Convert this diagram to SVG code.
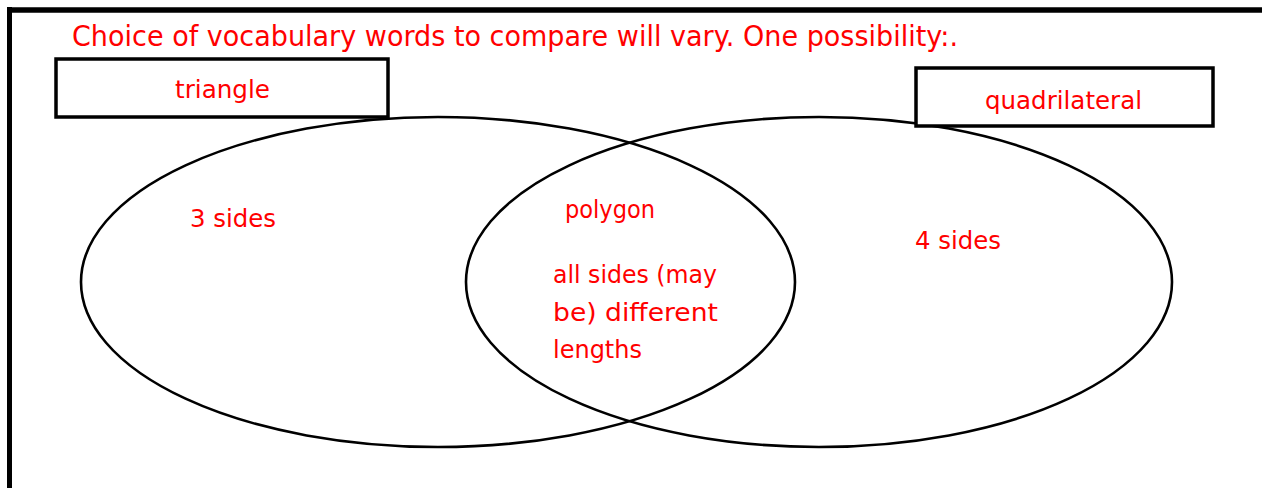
<svg xmlns="http://www.w3.org/2000/svg" width="1262" height="488" viewBox="0 0 1262 488">
<style>
.t{font-family:"DejaVu Sans","Liberation Sans",sans-serif;fill:#FF0000;font-size:25px}
.title{font-size:28px}
.ell{fill:none;stroke:#000;stroke-width:2.6}
.box{fill:#fff;stroke:#000;stroke-width:3.5}
</style>
<rect width="1262" height="488" fill="#fff"/>
<g id="frame">
<line x1="7" y1="10" x2="1262" y2="10" stroke="#000" stroke-width="5.5"/>
<line x1="9.5" y1="7" x2="9.5" y2="488" stroke="#000" stroke-width="5"/>
</g>
<g id="title">
<text class="t title" x="72" y="46" textLength="886" lengthAdjust="spacingAndGlyphs">Choice of vocabulary words to compare will vary. One possibility:.</text>
</g>
<g id="triangle-set">
<ellipse class="ell" cx="438" cy="282" rx="357" ry="165"/>
</g>
<g id="quadrilateral-set">
<ellipse class="ell" cx="819" cy="282" rx="353" ry="165"/>
</g>
<g id="triangle-label">
<rect class="box" x="56" y="59" width="332" height="58"/>
<text class="t" x="175" y="98" textLength="95" lengthAdjust="spacingAndGlyphs">triangle</text>
</g>
<g id="quadrilateral-label">
<rect class="box" x="916" y="68" width="297" height="58"/>
<text class="t" x="985" y="109" textLength="157" lengthAdjust="spacingAndGlyphs">quadrilateral</text>
</g>
<g id="triangle-only">
<text class="t" x="190" y="227" textLength="86" lengthAdjust="spacingAndGlyphs">3 sides</text>
</g>
<g id="quadrilateral-only">
<text class="t" x="915" y="249" textLength="86" lengthAdjust="spacingAndGlyphs">4 sides</text>
</g>
<g id="overlap">
<text class="t" x="565" y="218" textLength="90" lengthAdjust="spacingAndGlyphs">polygon</text>
<text class="t" x="553" y="283" textLength="164" lengthAdjust="spacingAndGlyphs">all sides (may</text>
<text class="t" x="553" y="321" textLength="165" lengthAdjust="spacingAndGlyphs">be) different</text>
<text class="t" x="553" y="358" textLength="89" lengthAdjust="spacingAndGlyphs">lengths</text>
</g>
</svg>
